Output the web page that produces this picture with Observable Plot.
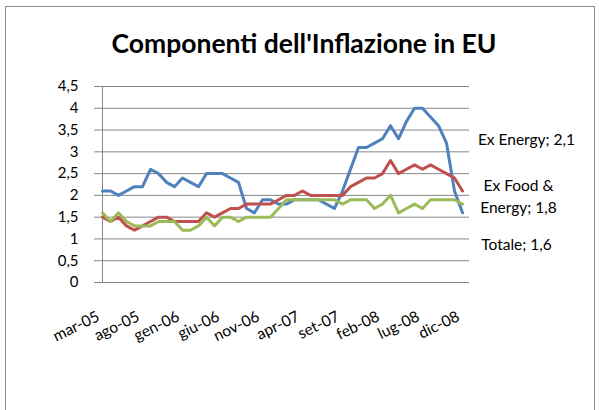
<!DOCTYPE html>
<html><head><meta charset="utf-8">
<script src="https://cdn.jsdelivr.net/npm/d3@7"></script>
<script src="https://cdn.jsdelivr.net/npm/@observablehq/plot@0.6"></script>
<style>
body{margin:0;background:#fff;font-family:Lato,sans-serif;width:599px;height:410px;overflow:hidden;position:relative}
#frame{position:absolute;left:5px;top:6px;width:588px;height:420px;border:1px solid #8c8c8c;}
#title{position:absolute;left:0;top:28px;width:608px;text-align:center;font-size:26.5px;font-weight:bold;color:#000;line-height:30px}
#chart{position:absolute;left:0;top:70px}
</style></head><body>
<div id="frame"></div>
<div id="title">Componenti dell'Inflazione in EU</div>
<div id="chart"></div>
<script>
const months = ["mar-05","apr-05","mag-05","giu-05","lug-05","ago-05","set-05","ott-05","nov-05","dic-05",
"gen-06","feb-06","mar-06","apr-06","mag-06","giu-06","lug-06","ago-06","set-06","ott-06","nov-06","dic-06",
"gen-07","feb-07","mar-07","apr-07","mag-07","giu-07","lug-07","ago-07","set-07","ott-07","nov-07","dic-07",
"gen-08","feb-08","mar-08","apr-08","mag-08","giu-08","lug-08","ago-08","set-08","ott-08","nov-08","dic-08"];
const xTicks = ["mar-05","ago-05","gen-06","giu-06","nov-06","apr-07","set-07","feb-08","lug-08","dic-08"];
const yTicks = [0,0.5,1,1.5,2,2.5,3,3.5,4,4.5];
const seriesNames = ["Totale","Ex Energy","Ex Food & Energy"];
const seriesColors = ["#4F81BD","#C0504D","#9BBB59"];
const totale = [2.1,2.1,2.0,2.1,2.2,2.2,2.6,2.5,2.3,2.2, 2.4,2.3,2.2,2.5,2.5,2.5,2.4,2.3,1.7,1.6,
 1.9,1.9,1.8,1.8,1.9,1.9,1.9,1.9,1.8,1.7, 2.1,2.6,3.1,3.1,3.2,3.3,3.6,3.3,3.7,4.0, 4.0,3.8,3.6,3.2,2.1,1.6];
const exEnergy = [1.5,1.4,1.5,1.3,1.2,1.3,1.4,1.5,1.5,1.4, 1.4,1.4,1.4,1.6,1.5,1.6,1.7,1.7,1.8,1.8,
 1.8,1.8,1.9,2.0,2.0,2.1,2.0,2.0,2.0,2.0, 2.0,2.2,2.3,2.4,2.4,2.5,2.8,2.5,2.6,2.7, 2.6,2.7,2.6,2.5,2.4,2.1];
const exFoodEnergy = [1.6,1.4,1.6,1.4,1.3,1.3,1.3,1.4,1.4,1.4, 1.2,1.2,1.3,1.5,1.3,1.5,1.5,1.4,1.5,1.5,
 1.5,1.5,1.7,1.9,1.9,1.9,1.9,1.9,1.9,1.9, 1.8,1.9,1.9,1.9,1.7,1.8,2.0,1.6,1.7,1.8, 1.7,1.9,1.9,1.9,1.9,1.8];

const fmt = d => String(d).replace(".", ",");
const seriesValues = [totale, exEnergy, exFoodEnergy];
const rows = [];
seriesNames.forEach((s, k) => months.forEach((m, i) => rows.push({month: m, value: seriesValues[k][i], serie: s})));
const last = months[months.length - 1];
const endLabel = k => [{month: last, value: seriesValues[k][months.length - 1],
  label: `${seriesNames[k].replace("& ", "&\n")}; ${fmt(seriesValues[k][months.length - 1])}`}];
const labelStyle = {x: "month", y: "value", text: "label", fontSize: 15.5, fill: "#000", textAnchor: "middle", lineHeight: 1.42};

const chart = Plot.plot({
  width: 599, height: 340,
  marginLeft: 94, marginRight: 130, marginTop: 16, marginBottom: 128,
  style: {fontFamily: "Lato, sans-serif", fontSize: "14px", background: "transparent", color: "#000", overflow: "visible"},
  x: {type: "point", domain: months, padding: 0, label: null},
  y: {domain: [0, 4.5], label: null},
  color: {domain: seriesNames, range: seriesColors},
  marks: [
    Plot.gridY(yTicks, {stroke: "#878787", strokeOpacity: 1, strokeWidth: 1}),
    Plot.ruleX([months[0]], {stroke: "#878787", strokeWidth: 1}),
    Plot.axisY(yTicks, {tickSize: 0, tickPadding: 16, tickFormat: fmt, fontSize: 15, label: null}),
    Plot.axisX(xTicks, {tickSize: 0, tickRotate: -26, tickPadding: 33, dx: -4, fontSize: 15.5, label: null}),
    Plot.line(rows, {x: "month", y: "value", z: "serie", stroke: "serie", strokeWidth: 3, strokeLinejoin: "round"}),
    Plot.text(endLabel(1), {...labelStyle, dx: 64, dy: -53}),
    Plot.text(endLabel(2), {...labelStyle, dx: 56, dy: -9}),
    Plot.text(endLabel(0), {...labelStyle, dx: 54, dy: 30})
  ]
});
document.getElementById("chart").appendChild(chart);
</script>
</body></html>
